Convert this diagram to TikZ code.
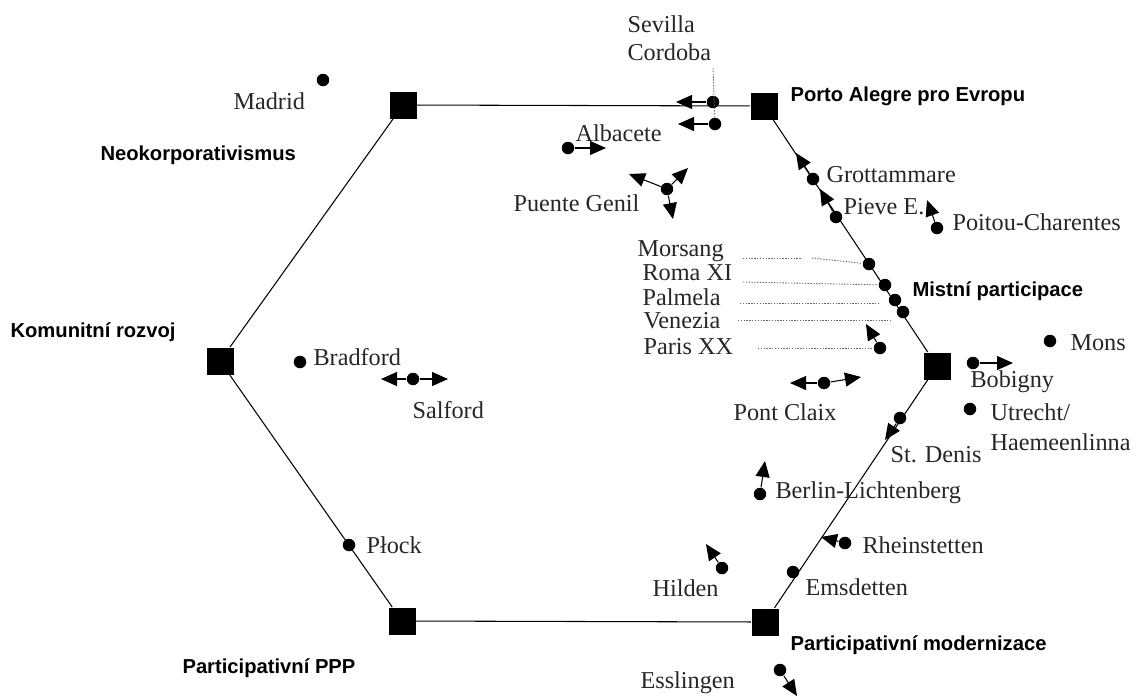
\documentclass[tikz,border=0pt]{standalone}
\usepackage{fontspec}
\setmainfont{Liberation Serif}
\newfontfamily\modelfont{Liberation Sans}
\usetikzlibrary{arrows.meta}

\tikzset{
  corner/.style={rectangle,fill=black,inner sep=0pt,minimum size=0.54cm},
  town/.style={circle,fill=black,inner sep=0pt,minimum size=0.25cm},
  city/.style={anchor=west,inner sep=0pt,text=black!85,font=\fontsize{13.8}{16}\selectfont},
  model/.style={anchor=west,inner sep=0pt,font=\modelfont\bfseries\fontsize{11.5}{13}\selectfont},
  guide/.style={draw=black!60,line width=0.5pt,dash pattern=on 0.8pt off 0.8pt}
}

\begin{document}
\begin{tikzpicture}[x=0.02cm,y=-0.02cm,>={Triangle[length=0.32cm,width=0.28cm]},line width=0.6pt]
      \useasboundingbox (0,0) rectangle (1138,698);

      % the six models
      \node[corner] (nk) at (403,105) {};
      \node[corner] (pa) at (764,106) {};
      \node[corner] (mp) at (937,366) {};
      \node[corner] (pm) at (765,622) {};
      \node[corner] (pp) at (402,621) {};
      \node[corner] (kr) at (220,361) {};
      \draw (nk) -- (pa) -- (mp) -- (pm) -- (pp) -- (kr) -- (nk);

      \node[model] (nkl) at (100,155) {Neokorporativismus};
      \node[model] (pal) at (790,96)  {Porto Alegre pro Evropu};
      \node[model] (mpl) at (912,291) {Mistní participace};
      \node[model] (pml) at (790,645) {Participativní modernizace};
      \node[model] (ppl) at (182,668) {Participativní PPP};
      \node[model] (krl) at (10,332)  {Komunitní rozvoj};

      % towns
      \node[town] (sev) at (713,102) {};
      \node[town] (cor) at (715,124) {};
      \node[town] (mad) at (323,80)  {};
      \node[town] (alb) at (568,148) {};
      \node[town] (pge) at (667,189) {};
      \node[town] (gro) at (813,179) {};
      \node[town] (pie) at (836,217) {};
      \node[town] (poi) at (937,228) {};
      \node[town] (mor) at (869,264) {};
      \node[town] (rom) at (885,285) {};
      \node[town] (pal) at (895,300) {};
      \node[town] (ven) at (903,312) {};
      \node[town] (par) at (880,348) {};
      \node[town] (mon) at (1050,341) {};
      \node[town] (bob) at (973,363) {};
      \node[town] (utr) at (970,409) {};
      \node[town] (std) at (900,418) {};
      \node[town] (pcl) at (824,383) {};
      \node[town] (ber) at (760,494) {};
      \node[town] (rhe) at (845,543) {};
      \node[town] (ems) at (793,572) {};
      \node[town] (hil) at (722,568) {};
      \node[town] (ess) at (780,670) {};
      \node[town] (plo) at (349,545) {};
      \node[town] (bra) at (300,362) {};
      \node[town] (sal) at (413,379) {};

      \node[city] (sevl) at (627,24)  {Sevilla};
      \node[city] (corl) at (627,52)  {Cordoba};
      \node[city] (madl) at (233,101) {Madrid};
      \node[city] (albl) at (575,133) {Albacete};
      \node[city] (pgel) at (513,203) {Puente Genil};
      \node[city] (grol) at (826,175) {Grottammare};
      \node[city] (piel) at (843,207) {Pieve E.};
      \node[city] (poil) at (952,222) {Poitou-Charentes};
      \node[city] (morl) at (637,251) {Morsang};
      \node[city] (roml) at (642,273) {Roma XI};
      \node[city] (pall) at (642,297) {Palmela};
      \node[city] (venl) at (643,321) {Venezia};
      \node[city] (parl) at (643,347) {Paris XX};
      \node[city] (monl) at (1070,343) {Mons};
      \node[city] (bobl) at (970,382) {Bobigny};
      \node[city] (utrl) at (990,412) {Utrecht/};
      \node[city] (hael) at (990,442) {Haemeenlinna};
      \node[city] (stdl) at (890,455) {St. Denis};
      \node[city] (pcll) at (733,412) {Pont Claix};
      \node[city] (berl) at (775,493) {Berlin-Lichtenberg};
      \node[city] (rhel) at (862,545) {Rheinstetten};
      \node[city] (emsl) at (805,587) {Emsdetten};
      \node[city] (hill) at (652,588) {Hilden};
      \node[city] (essl) at (640,683) {Esslingen};
      \node[city] (plol) at (366,545) {Płock};
      \node[city] (bral) at (313,357) {Bradford};
      \node[city] (sall) at (412,410) {Salford};

      % where the towns move to
      \coordinate (sevto) at (676,102);
      \coordinate (corto) at (678,124);
      \coordinate (albto) at (606,148);
      \coordinate (pgea)  at (629,174);
      \coordinate (pgeb)  at (688,168);
      \coordinate (pgec)  at (673,219);
      \coordinate (groto) at (796,153);
      \coordinate (pieto) at (820,189);
      \coordinate (poito) at (927,200);
      \coordinate (parto) at (866,324);
      \coordinate (bobto) at (1013,363);
      \coordinate (stdto) at (885,440);
      \coordinate (pcla)  at (790,383);
      \coordinate (pclb)  at (861,377);
      \coordinate (berto) at (765,461);
      \coordinate (rheto) at (821,537);
      \coordinate (hilto) at (706,544);
      \coordinate (essto) at (797,696);
      \coordinate (sala)  at (381,379);
      \coordinate (salb)  at (448,379);

      \path[->] (sev) edge (sevto)
                (cor) edge (corto)
                (alb) edge (albto)
                (pge) edge (pgea) edge (pgeb) edge (pgec)
                (gro) edge (groto)
                (pie) edge (pieto)
                (poi) edge (poito)
                (par) edge (parto)
                (bob) edge (bobto)
                (std) edge (stdto)
                (pcl) edge (pcla) edge (pclb)
                (ber) edge (berto)
                (rhe) edge (rheto)
                (hil) edge (hilto)
                (ess) edge (essto)
                (sal) edge (sala) edge (salb);

      % dotted leaders
      \coordinate (sevtop) at (713,68);
      \coordinate (mora) at (743,258);
      \coordinate (morb) at (802,258);
      \coordinate (morc) at (812,258);
      \coordinate (roma) at (743,282);
      \coordinate (pala) at (740,303);
      \coordinate (palb) at (880,303);
      \coordinate (vena) at (738,320);
      \coordinate (venb) at (892,320);
      \coordinate (para) at (758,348);
      \draw[guide] (sevtop) -- (cor);
      \draw[guide] (mora) -- (morb);
      \draw[guide] (morc) -- (mor);
      \draw[guide] (roma) -- (rom);
      \draw[guide] (pala) -- (palb);
      \draw[guide] (vena) -- (venb);
      \draw[guide] (para) -- (par);
\end{tikzpicture}
\end{document}
